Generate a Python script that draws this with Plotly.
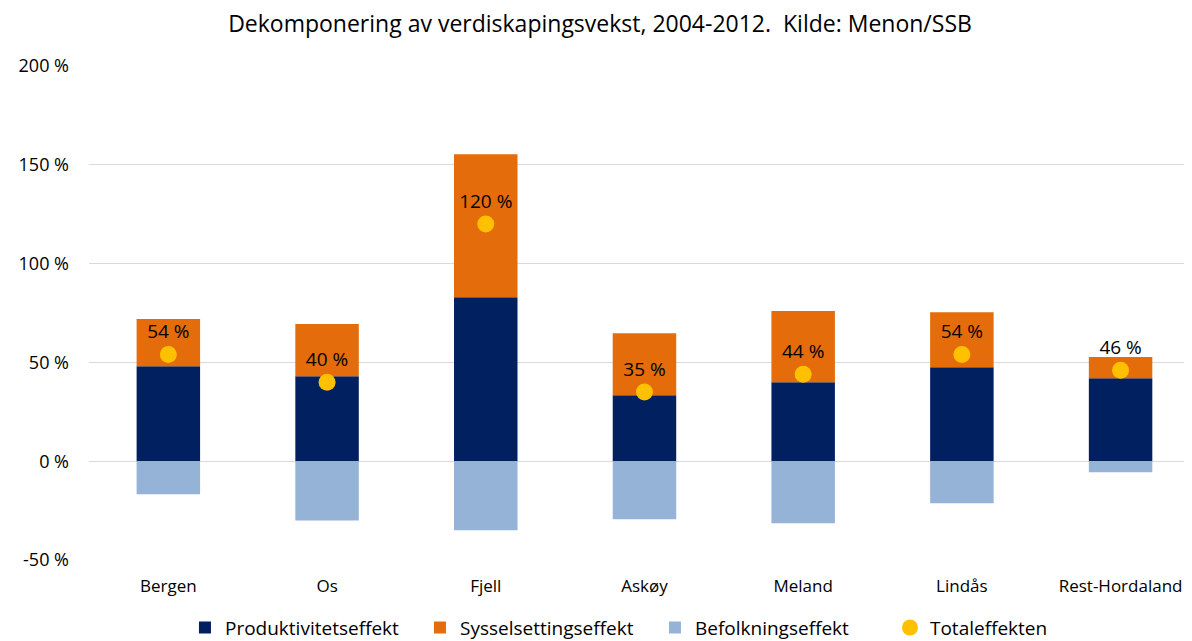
import plotly.graph_objects as go

categories = ["Bergen", "Os", "Fjell", "Askøy", "Meland", "Lindås", "Rest-Hordaland"]
produktivitet = [48, 43, 83, 33.4, 40, 47.6, 42]
sysselsetting = [24, 26.4, 72.4, 31.4, 36, 27.8, 10.7]
befolkning = [-16.7, -30, -35, -29.4, -31.4, -21.3, -5.6]
total = [54, 40, 120, 35, 44, 54, 46]
total_labels = ["54 %", "40 %", "120 %", "35 %", "44 %", "54 %", "46 %"]
tick_vals = [-50, 0, 50, 100, 150, 200]
tick_text = ["-50 %", "0 %", "50 %", "100 %", "150 %", "200 %"]

FONT = "Open Sans, Liberation Sans, sans-serif"

fig = go.Figure()
fig.add_trace(go.Bar(x=categories, y=produktivitet, name="Produktivitetseffekt",
                     marker=dict(color="#002060", line=dict(width=0)), width=0.4))
fig.add_trace(go.Bar(x=categories, y=sysselsetting, name="Sysselsettingseffekt",
                     marker=dict(color="#E46C0A", line=dict(width=0)), width=0.4))
fig.add_trace(go.Bar(x=categories, y=befolkning, name="Befolkningseffekt",
                     marker=dict(color="#95B3D7", line=dict(width=0)), width=0.4))
fig.add_trace(go.Scatter(x=categories, y=total, name="Totaleffekten", mode="markers+text",
                         marker=dict(color="#FFC000", size=17),
                         text=total_labels, textposition="top center",
                         textfont=dict(size=19, color="#000000", family=FONT)))

fig.update_layout(
    barmode="relative",
    width=1184, height=633,
    paper_bgcolor="white", plot_bgcolor="white",
    margin=dict(l=81, r=0, t=58, b=81, autoexpand=False),
    font=dict(family=FONT, size=18, color="#000000"),
    title=dict(text="Dekomponering av verdiskapingsvekst, 2004-2012.  Kilde: Menon/SSB",
               x=0.5, xanchor="center", y=0.975, yanchor="middle",
               font=dict(size=23, family=FONT, color="#000000")),
    xaxis=dict(showgrid=False, showline=False, ticks="", tickfont=dict(size=17),
               range=[-0.5, 6.45], automargin=False, ticklabelstandoff=14),
    yaxis=dict(range=[-50, 200], tickvals=tick_vals, ticktext=tick_text,
               showgrid=True, gridcolor="#D9D9D9", gridwidth=1, zeroline=False,
               showline=False, ticks="", tickfont=dict(size=18), ticklabelstandoff=19,
               automargin=False),
    legend=dict(orientation="h", x=0.087, xanchor="left", y=-0.137, yanchor="middle",
                font=dict(size=19), itemwidth=30, entrywidth=190, entrywidthmode="pixels",
                traceorder="normal"),
    showlegend=True,
)

fig.write_html("out.html")
